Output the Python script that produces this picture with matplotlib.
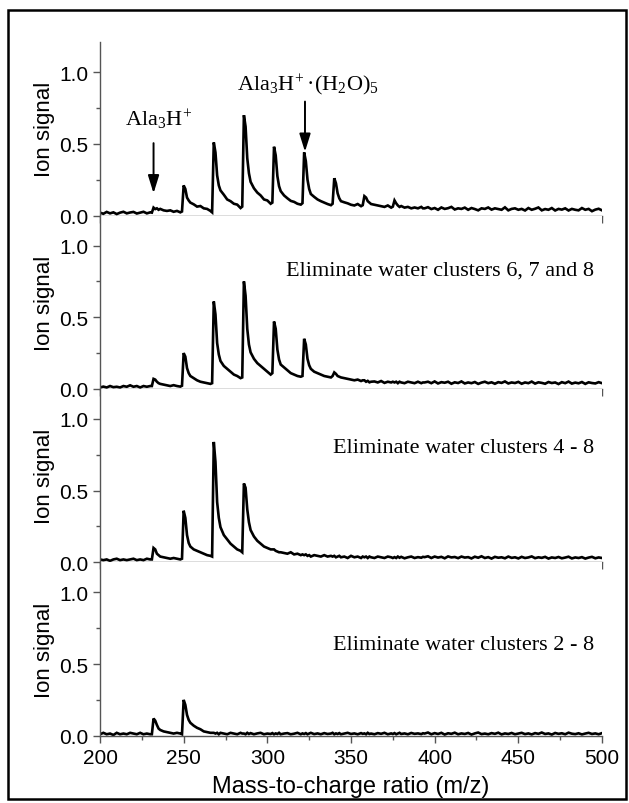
import matplotlib
matplotlib.use("Agg")
import matplotlib.pyplot as plt
from matplotlib.ticker import MultipleLocator, FormatStrFormatter
from matplotlib.patches import Rectangle

# m/z sample positions (denser around the water-cluster peaks)
mz = [200, 202, 204, 206, 208, 210, 212, 214, 216, 218, 220, 222, 224, 226, 228, 230,
      231,
      232, 233, 234, 235, 236, 238, 240, 242, 244, 246, 248, 249,
      250, 251, 252, 253, 254, 256, 258, 260, 262, 264, 266, 267,
      268, 269, 270, 271, 272, 274, 276, 278, 280, 282, 284, 285,
      286, 287, 288, 289, 290, 292, 294, 296, 298, 300, 302, 303,
      304, 305, 306, 307, 308, 310, 312, 314, 316, 318, 320, 321,
      322, 323, 324, 325, 326, 328, 330, 332, 334, 336, 338, 339,
      340, 341, 342, 343, 344, 346, 348, 350, 352, 354, 356, 357,
      358, 359, 360, 361, 362, 364, 366, 368, 370, 372, 374, 375,
      376, 377, 378, 379, 380, 382, 384, 386, 388, 390, 392, 393,
      394, 396, 398, 400, 402, 404, 406, 408, 410,
      412, 414, 416, 418, 420, 422, 424, 426, 428,
      430, 432, 434, 436, 438, 440, 442, 444, 446,
      448, 450, 452, 454, 456, 458, 460, 462, 464,
      466, 468, 470, 472, 474, 476, 478, 480, 482,
      484, 486, 488, 490, 492, 494, 496, 498, 500]

# full spectrum
sig_full = [.020, .012, .025, .015, .022, .010, .020, .026, .015, .021, .025, .014, .020, .026, .015, .022,
            .020,
            .055, .045, .050, .040, .046, .036, .032, .036, .026, .032, .022, .028,
            .210, .185, .125, .105, .090, .078, .062, .066, .050, .046, .032, .022,
            .510, .440, .280, .210, .175, .145, .112, .100, .082, .076, .052, .062,
            .700, .620, .400, .295, .235, .190, .160, .140, .112, .105, .082, .090,
            .480, .420, .275, .205, .170, .140, .120, .102, .095, .082, .076, .086,
            .440, .380, .250, .185, .150, .130, .112, .100, .090, .080, .072, .082,
            .260, .225, .155, .120, .100, .092, .085, .075, .070, .080, .065, .072,
            .135, .125, .100, .090, .080, .075, .070, .065, .060, .070, .055, .062,
            .105, .085, .070, .060, .066, .055, .060, .050, .056, .050, .060, .050,
            .050, .058, .045, .052, .040, .056, .046, .051, .060,
            .042, .050, .046, .055, .040, .052, .045, .036, .050,
            .046, .056, .041, .050, .045, .040, .057, .036, .046,
            .050, .040, .046, .035, .052, .040, .047, .056, .036,
            .045, .040, .052, .035, .046, .041, .050, .035, .046,
            .040, .036, .052, .040, .046, .030, .041, .047, .036]

# water clusters 6, 7 and 8 eliminated
sig_no_6_8 = [.010, .016, .010, .020, .012, .015, .010, .020, .015, .025, .015, .020, .010, .020, .015, .020,
              .020,
              .070, .065, .050, .040, .035, .030, .025, .020, .026, .020, .016, .022,
              .250, .225, .145, .110, .090, .075, .060, .050, .045, .040, .035, .040,
              .610, .520, .320, .240, .195, .160, .140, .120, .100, .090, .075, .080,
              .750, .650, .420, .310, .255, .210, .180, .160, .140, .120, .100, .110,
              .470, .420, .275, .205, .170, .150, .130, .110, .100, .090, .085, .090,
              .350, .310, .210, .165, .140, .120, .110, .100, .090, .085, .080, .090,
              .115, .105, .090, .085, .080, .075, .070, .065, .060, .065, .055, .060,
              .060, .050, .056, .046, .050, .052, .045, .055, .042, .050, .045, .050,
              .045, .050, .040, .050, .045, .040, .050, .045, .040, .050, .040, .045,
              .045, .050, .040, .052, .038, .047, .043, .050, .036,
              .046, .041, .052, .038, .045, .040, .048, .035, .044,
              .050, .040, .046, .036, .047, .042, .052, .038, .045,
              .041, .049, .036, .045, .040, .051, .037, .046, .042,
              .036, .048, .041, .045, .034, .047, .040, .051, .037,
              .044, .039, .048, .035, .046, .041, .038, .047, .040]

# water clusters 4 - 8 eliminated
sig_no_4_8 = [.020, .015, .020, .010, .020, .025, .015, .020, .015, .020, .025, .015, .020, .015, .025, .020,
              .020,
              .100, .090, .060, .050, .040, .035, .030, .025, .030, .025, .020, .025,
              .360, .310, .190, .135, .110, .090, .080, .070, .060, .050, .045, .040,
              .840, .700, .420, .310, .245, .190, .160, .130, .110, .090, .080, .070,
              .550, .520, .370, .280, .225, .180, .150, .130, .110, .100, .090, .090,
              .090, .080, .075, .070, .070, .065, .060, .070, .055, .060, .050, .055,
              .050, .055, .045, .050, .040, .050, .045, .040, .050, .040, .045, .040,
              .045, .035, .040, .045, .035, .040, .030, .045, .035, .040, .030, .040,
              .035, .040, .030, .040, .035, .030, .040, .035, .030, .040, .035, .030,
              .036, .030, .040, .032, .038, .028, .035, .040, .030, .036, .032, .038,
              .036, .042, .030, .040, .033, .038, .028, .041, .034,
              .037, .029, .040, .033, .036, .027, .039, .032, .042,
              .030, .036, .026, .038, .032, .035, .028, .040, .031,
              .035, .027, .038, .030, .034, .041, .029, .035, .031,
              .038, .026, .034, .030, .037, .028, .033, .039, .027,
              .034, .030, .036, .026, .033, .038, .028, .034, .030]

# water clusters 2 - 8 eliminated
sig_no_2_8 = [.010, .020, .010, .015, .005, .020, .010, .015, .010, .020, .015, .010, .020, .010, .015, .010,
              .010,
              .120, .105, .075, .050, .040, .030, .025, .020, .015, .020, .015, .010,
              .250, .215, .145, .110, .090, .070, .055, .045, .030, .025, .020, .020,
              .020, .015, .020, .010, .020, .015, .010, .020, .015, .010, .020, .015,
              .015, .010, .020, .012, .018, .010, .016, .020, .010, .015, .012, .018,
              .010, .016, .012, .020, .010, .015, .018, .010, .014, .020, .010, .016,
              .012, .018, .010, .015, .020, .011, .016, .010, .018, .012, .015, .020,
              .010, .016, .012, .018, .010, .015, .020, .012, .016, .010, .018, .013,
              .016, .010, .020, .012, .015, .010, .018, .013, .020, .010, .016, .012,
              .018, .010, .015, .020, .012, .016, .010, .019, .013, .016, .011, .017,
              .015, .022, .010, .018, .012, .020, .008, .017, .013,
              .021, .010, .016, .012, .019, .008, .016, .022, .011,
              .015, .010, .018, .013, .021, .009, .016, .012, .019,
              .010, .015, .020, .011, .016, .009, .018, .013, .022,
              .012, .016, .008, .019, .013, .017, .010, .021, .014,
              .011, .017, .009, .015, .020, .012, .016, .010, .018]

spectra = [sig_full, sig_no_6_8, sig_no_4_8, sig_no_2_8]
panel_notes = ["", "Eliminate water clusters 6, 7 and 8",
               "Eliminate water clusters 4 - 8", "Eliminate water clusters 2 - 8"]
note_y = [0, 0.795, 0.77, 0.605]

W, H = 629, 804
fig = plt.figure(figsize=(W / 100, H / 100), dpi=100)

sans = "Liberation Sans"
serif = "Liberation Serif"
axis_col = "#555555"

left, width = 100 / W, 502 / W
panel_h = 173.4
bottom0 = 736.7
axes = []
for i in range(4):
    y_bot = bottom0 - (3 - i) * panel_h
    ax = fig.add_axes([left, (H - y_bot) / H, width, panel_h / H])
    axes.append(ax)

for i, (ax, sig) in enumerate(zip(axes, spectra)):
    ax.plot(mz, sig, color="black", lw=1.9, solid_joinstyle="miter")
    ax.set_xlim(200, 500)
    ax.set_ylim(0, 1.21)
    ax.spines["top"].set_visible(False)
    ax.spines["right"].set_visible(False)
    for s in ("left", "bottom"):
        ax.spines[s].set_color(axis_col)
        ax.spines[s].set_linewidth(1.0)
    ax.xaxis.set_major_locator(MultipleLocator(50))
    ax.xaxis.set_minor_locator(MultipleLocator(25))
    ax.yaxis.set_major_locator(MultipleLocator(0.5))
    ax.yaxis.set_minor_locator(MultipleLocator(0.25))
    ax.yaxis.set_major_formatter(FormatStrFormatter("%.1f"))
    ax.tick_params(which="major", direction="out", length=5, width=1, color=axis_col,
                   labelsize=15)
    ax.tick_params(which="minor", direction="out", length=3, width=1, color=axis_col)
    for lab in ax.get_xticklabels() + ax.get_yticklabels():
        lab.set_fontfamily(sans)
    if i < 3:
        ax.tick_params(axis="x", labelbottom=False)
    ax.set_ylabel("Ion signal", fontsize=16, fontfamily=sans)
    ax.yaxis.set_label_coords(-0.09, 0.5)
    if panel_notes[i]:
        ax.text(495, note_y[i], panel_notes[i], ha="right", va="baseline",
                fontsize=16, fontfamily=serif)

axes[3].set_xlabel("Mass-to-charge ratio (m/z)", fontsize=17, fontfamily=sans, labelpad=6)

# peak labels in the top panel
top = axes[0]
arrow_kw = dict(arrowstyle="-|>,head_length=0.9,head_width=0.28", color="black",
                lw=1.4, mutation_scale=12, shrinkA=0, shrinkB=0)
top.annotate("", xy=(232, 0.155), xytext=(232, 0.505), arrowprops=arrow_kw)
top.annotate("", xy=(322.5, 0.445), xytext=(322.5, 0.795), arrowprops=arrow_kw)
top.text(235, 0.63, r"$\mathregular{Ala_3H^{\!+}}$", ha="center", va="baseline",
         fontsize=16, fontfamily=serif)
top.text(324, 0.877, r"$\mathregular{Ala_3H^{\!+}}$·$\mathregular{(H_2O)_5}$", ha="center",
         va="baseline", fontsize=16, fontfamily=serif)

# outer frame
fig.patches.append(Rectangle((8 / W, 4 / H), 618 / W, 789 / H, transform=fig.transFigure,
                             fill=False, edgecolor="black", lw=1.8))

fig.savefig("out.png", dpi=100)
